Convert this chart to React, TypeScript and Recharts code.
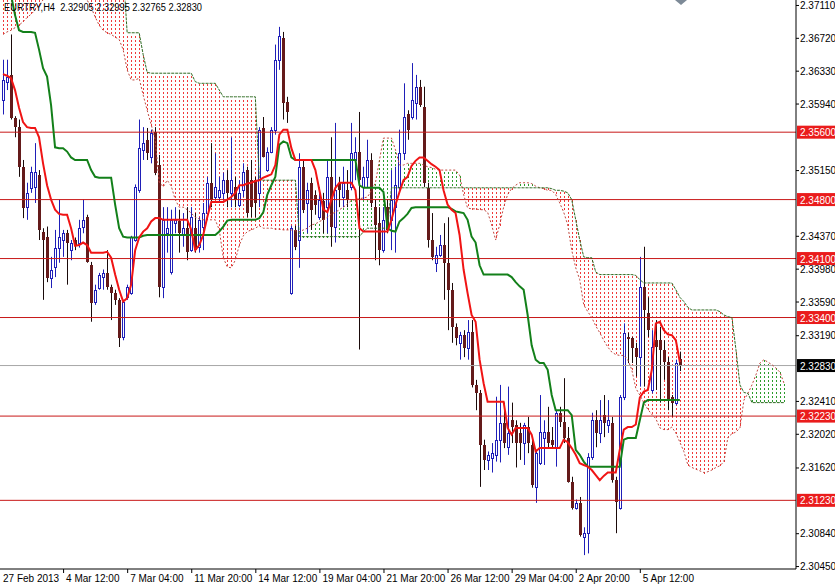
import React from "react";
import { ComposedChart, Line, Bar, XAxis, YAxis, ReferenceLine } from "recharts";

// EURTRY H4, bar by bar, oldest first
const opens = [
  2.3598, 2.3620, 2.3628, 2.3577, 2.3566, 2.3519, 2.3471, 2.3494, 2.3495, 2.3509,
  2.3442, 2.3436, 2.3387, 2.3400, 2.3423, 2.3432, 2.3440, 2.3420, 2.3432, 2.3429,
  2.3448, 2.3459, 2.3402, 2.3359, 2.3375, 2.3388, 2.3393, 2.3376, 2.3369, 2.3361,
  2.3317, 2.3364, 2.3369, 2.3432, 2.3491, 2.3539, 2.3551, 2.3531, 2.3560, 2.3521,
  2.3376, 2.3440, 2.3394, 2.3452, 2.3454, 2.3438, 2.3446, 2.3420, 2.3446, 2.3424,
  2.3448, 2.3464, 2.3500, 2.3483, 2.3483, 2.3488, 2.3503, 2.3488, 2.3495, 2.3474,
  2.3491, 2.3515, 2.3503, 2.3503, 2.3488, 2.3565, 2.3515, 2.3536, 2.3563, 2.3646,
  2.3672, 2.3596, 2.3369, 2.3444, 2.3432, 2.3519, 2.3476, 2.3500, 2.3486, 2.3459,
  2.3478, 2.3471, 2.3507, 2.3448, 2.3500, 2.3483, 2.3491, 2.3495, 2.3527, 2.3536,
  2.3495, 2.3507, 2.3527, 2.3471, 2.3452, 2.3420, 2.3471, 2.3456, 2.3471, 2.3495,
  2.3535, 2.3581, 2.3578, 2.3595, 2.3614, 2.3590, 2.3494, 2.3432, 2.3405, 2.3414,
  2.3426, 2.3405, 2.3373, 2.3329, 2.3310, 2.3319, 2.3304, 2.3323, 2.3260, 2.3250,
  2.3189, 2.3171, 2.3173, 2.3177, 2.3195, 2.3215, 2.3186, 2.3218, 2.3213, 2.3203,
  2.3191, 2.3210, 2.3189, 2.3139, 2.3167, 2.3197, 2.3204, 2.3195, 2.3186, 2.3227,
  2.3216, 2.3197, 2.3145, 2.3114, 2.3120, 2.3080, 2.3084, 2.3175, 2.3218, 2.3203,
  2.3224, 2.3213, 2.3215, 2.3147, 2.3114, 2.3246, 2.3317, 2.3316, 2.3304, 2.3293,
  2.3376, 2.3345, 2.3254, 2.3313, 2.3313, 2.3302, 2.3287, 2.3246, 2.3239, 2.32905,
];

const highs = [
  2.3646, 2.3646, 2.3676, 2.3579, 2.3575, 2.3527, 2.3500, 2.3519, 2.3547, 2.3515,
  2.3446, 2.3448, 2.3412, 2.3444, 2.3480, 2.3444, 2.3444, 2.3432, 2.3435, 2.3456,
  2.3480, 2.3462, 2.3406, 2.3379, 2.3393, 2.3397, 2.3420, 2.3379, 2.3373, 2.3363,
  2.3361, 2.3379, 2.3437, 2.3498, 2.3575, 2.3566, 2.3565, 2.3563, 2.3566, 2.3533,
  2.3471, 2.3471, 2.3468, 2.3471, 2.3468, 2.3464, 2.3471, 2.3471, 2.3464, 2.3459,
  2.3476, 2.3507, 2.3547, 2.3535, 2.3507, 2.3512, 2.3515, 2.3554, 2.3507, 2.3503,
  2.3523, 2.3519, 2.3527, 2.3507, 2.3566, 2.3578, 2.3542, 2.3566, 2.3664, 2.3685,
  2.3679, 2.3602, 2.3449, 2.3449, 2.3535, 2.3527, 2.3500, 2.3506, 2.3491, 2.3495,
  2.3488, 2.3527, 2.3554, 2.3571, 2.3507, 2.3519, 2.3515, 2.3571, 2.3554, 2.3584,
  2.3519, 2.3551, 2.3535, 2.3480, 2.3471, 2.3471, 2.3480, 2.3515, 2.3519, 2.3563,
  2.3618, 2.3586, 2.3642, 2.3628, 2.3622, 2.3614, 2.3500, 2.3464, 2.3424, 2.3438,
  2.3452, 2.3459, 2.3381, 2.3333, 2.3323, 2.3325, 2.3337, 2.3337, 2.3266, 2.3254,
  2.3195, 2.3181, 2.3191, 2.3246, 2.3260, 2.3239, 2.3258, 2.3239, 2.3218, 2.3215,
  2.3215, 2.3222, 2.3195, 2.3183, 2.3248, 2.3218, 2.3234, 2.3210, 2.3230, 2.3234,
  2.3268, 2.3210, 2.3151, 2.3124, 2.3127, 2.3091, 2.3179, 2.3227, 2.3230, 2.3242,
  2.3248, 2.3242, 2.3222, 2.3151, 2.3248, 2.3333, 2.3322, 2.3317, 2.3310, 2.3412,
  2.3424, 2.3364, 2.3325, 2.3337, 2.3329, 2.3313, 2.3293, 2.3248, 2.3290, 2.32995,
];

const lows = [
  2.3581, 2.3610, 2.3575, 2.3554, 2.3507, 2.3458, 2.3456, 2.3488, 2.3476, 2.3432,
  2.3361, 2.3382, 2.3375, 2.3388, 2.3405, 2.3412, 2.3379, 2.3408, 2.3420, 2.3423,
  2.3440, 2.3405, 2.3335, 2.3355, 2.3373, 2.3373, 2.3373, 2.3337, 2.3355, 2.3305,
  2.3313, 2.3361, 2.3367, 2.3430, 2.3488, 2.3527, 2.3527, 2.3523, 2.3509, 2.3364,
  2.3363, 2.3417, 2.3391, 2.3440, 2.3417, 2.3424, 2.3408, 2.3418, 2.3417, 2.3417,
  2.3420, 2.3456, 2.3471, 2.3480, 2.3476, 2.3480, 2.3471, 2.3471, 2.3471, 2.3471,
  2.3483, 2.3459, 2.3459, 2.3459, 2.3471, 2.3530, 2.3513, 2.3535, 2.3557, 2.3634,
  2.3575, 2.3571, 2.3367, 2.3420, 2.3399, 2.3464, 2.3440, 2.3444, 2.3462, 2.3456,
  2.3440, 2.3440, 2.3424, 2.3429, 2.3471, 2.3471, 2.3471, 2.3491, 2.3503, 2.3302,
  2.3480, 2.3495, 2.3471, 2.3408, 2.3402, 2.3417, 2.3440, 2.3420, 2.3417, 2.3491,
  2.3527, 2.3551, 2.3575, 2.3575, 2.3590, 2.3495, 2.3423, 2.3408, 2.3394, 2.3412,
  2.3361, 2.3325, 2.3310, 2.3307, 2.3290, 2.3293, 2.3290, 2.3257, 2.3230, 2.3139,
  2.3159, 2.3159, 2.3156, 2.3169, 2.3168, 2.3185, 2.3177, 2.3191, 2.3162, 2.3171,
  2.3165, 2.3179, 2.3138, 2.3120, 2.3165, 2.3165, 2.3186, 2.3185, 2.3163, 2.3210,
  2.3191, 2.3144, 2.3112, 2.3112, 2.3080, 2.3058, 2.3060, 2.3171, 2.3186, 2.3191,
  2.3198, 2.3203, 2.3144, 2.3084, 2.3112, 2.3242, 2.3286, 2.3286, 2.3270, 2.3258,
  2.3258, 2.3317, 2.3250, 2.3254, 2.3239, 2.3266, 2.3230, 2.3222, 2.3236, 2.32765,
];

const closes = [
  2.3622, 2.3626, 2.3577, 2.3566, 2.3519, 2.3470, 2.3488, 2.3513, 2.3513, 2.3444,
  2.3432, 2.3387, 2.3397, 2.3423, 2.3436, 2.3440, 2.3429, 2.3429, 2.3426, 2.3446,
  2.3456, 2.3406, 2.3357, 2.3373, 2.3391, 2.3393, 2.3376, 2.3369, 2.3361, 2.3316,
  2.3359, 2.3376, 2.3435, 2.3495, 2.3541, 2.3547, 2.3535, 2.3559, 2.3512, 2.3376,
  2.3456, 2.3446, 2.3456, 2.3456, 2.3440, 2.3446, 2.3418, 2.3459, 2.3420, 2.3456,
  2.3464, 2.3500, 2.3480, 2.3495, 2.3491, 2.3503, 2.3488, 2.3503, 2.3480, 2.3488,
  2.3513, 2.3464, 2.3471, 2.3476, 2.3563, 2.3531, 2.3536, 2.3563, 2.3646, 2.3674,
  2.3595, 2.3584, 2.3446, 2.3424, 2.3519, 2.3468, 2.3491, 2.3468, 2.3474, 2.3480,
  2.3456, 2.3507, 2.3448, 2.3491, 2.3491, 2.3500, 2.3480, 2.3535, 2.3536, 2.3503,
  2.3507, 2.3527, 2.3476, 2.3450, 2.3420, 2.3456, 2.3444, 2.3480, 2.3497, 2.3535,
  2.3578, 2.3563, 2.3598, 2.3614, 2.3592, 2.3500, 2.3432, 2.3412, 2.3414, 2.3426,
  2.3405, 2.3373, 2.3329, 2.3316, 2.3319, 2.3304, 2.3323, 2.3260, 2.3250, 2.3189,
  2.3171, 2.3177, 2.3179, 2.3195, 2.3215, 2.3191, 2.3203, 2.3210, 2.3191, 2.3191,
  2.3213, 2.3191, 2.3141, 2.3179, 2.3204, 2.3204, 2.3191, 2.3189, 2.3227, 2.3216,
  2.3197, 2.3145, 2.3114, 2.3120, 2.3082, 2.3084, 2.3175, 2.3218, 2.3203, 2.3218,
  2.3215, 2.3218, 2.3147, 2.3121, 2.3246, 2.3322, 2.3315, 2.3304, 2.3293, 2.3376,
  2.3349, 2.3325, 2.3305, 2.3305, 2.3302, 2.3287, 2.3242, 2.3239, 2.3286, 2.32830,
];

// Ichimoku: tenkan-sen (red), kijun-sen (green)
const tenkan = [
  2.3629, 2.3627, 2.3624, 2.3610, 2.3589, 2.3572, 2.3566, 2.3565, 2.3565, 2.3554,
  2.3523, 2.3497, 2.3480, 2.3468, 2.3463, 2.3462, 2.3462, 2.3446, 2.3425, 2.3426,
  2.3429, 2.3426, 2.3417, 2.3417, 2.3417, 2.3417, 2.3418, 2.3411, 2.3391, 2.3373,
  2.3359, 2.3363, 2.3379, 2.3420, 2.3435, 2.3442, 2.3446, 2.3454, 2.3458, 2.3458,
  2.3456, 2.3456, 2.3456, 2.3456, 2.3456, 2.3456, 2.3456, 2.3444, 2.3420, 2.3426,
  2.3438, 2.3459, 2.3477, 2.3477, 2.3477, 2.3477, 2.3480, 2.3483, 2.3488, 2.3497,
  2.3497, 2.3499, 2.3500, 2.3502, 2.3503, 2.3506, 2.3508, 2.3510, 2.3521, 2.3557,
  2.3563, 2.3563, 2.3541, 2.3527, 2.3527, 2.3527, 2.3527, 2.3527, 2.3515, 2.3491,
  2.3468, 2.3465, 2.3480, 2.3494, 2.3500, 2.3500, 2.3500, 2.3500, 2.3491, 2.3446,
  2.3442, 2.3442, 2.3442, 2.3442, 2.3442, 2.3442, 2.3442, 2.3456, 2.3474, 2.3489,
  2.3503, 2.3507, 2.3520, 2.3526, 2.3530, 2.3530, 2.3526, 2.3522, 2.3519, 2.3515,
  2.3491, 2.3474, 2.3468, 2.3464, 2.3438, 2.3397, 2.3369, 2.3343, 2.3335, 2.3290,
  2.3262, 2.3240, 2.3240, 2.3240, 2.3240, 2.3240, 2.3209, 2.3201, 2.3209, 2.3209,
  2.3209, 2.3209, 2.3201, 2.3181, 2.3185, 2.3185, 2.3185, 2.3185, 2.3185, 2.3185,
  2.3195, 2.3192, 2.3185, 2.3177, 2.3167, 2.3165, 2.3163, 2.3159, 2.3153, 2.3147,
  2.3152, 2.3156, 2.3156, 2.3156, 2.3183, 2.3207, 2.3210, 2.3210, 2.3213, 2.3245,
  2.3252, 2.3254, 2.3278, 2.3333, 2.3335, 2.3325, 2.3320, 2.3319, 2.3313, 2.3287,
];

const kijun = [
  2.3765, 2.3747, 2.3723, 2.3699, 2.3681, 2.3679, 2.3679, 2.3679, 2.3678, 2.3658,
  2.3636, 2.3626, 2.3592, 2.3542, 2.3541, 2.3541, 2.3537, 2.3530, 2.3527, 2.3527,
  2.3527, 2.3527, 2.3515, 2.3507, 2.3506, 2.3506, 2.3506, 2.3506, 2.3474, 2.3446,
  2.3436, 2.3435, 2.3435, 2.3435, 2.3435, 2.3437, 2.3438, 2.3438, 2.3438, 2.3438,
  2.3438, 2.3438, 2.3438, 2.3438, 2.3438, 2.3438, 2.3438, 2.3438, 2.3438, 2.3438,
  2.3438, 2.3438, 2.3438, 2.3438, 2.3442, 2.3448, 2.3455, 2.3456, 2.3456, 2.3456,
  2.3456, 2.3456, 2.3456, 2.3456, 2.3458, 2.3465, 2.3486, 2.3497, 2.3507, 2.3545,
  2.3549, 2.3547, 2.3530, 2.3527, 2.3527, 2.3527, 2.3527, 2.3527, 2.3527, 2.3527,
  2.3527, 2.3527, 2.3527, 2.3527, 2.3527, 2.3527, 2.3527, 2.3527, 2.3527, 2.3497,
  2.3494, 2.3494, 2.3494, 2.3494, 2.3494, 2.3489, 2.3446, 2.3443, 2.3442, 2.3454,
  2.3458, 2.3463, 2.3470, 2.3471, 2.3471, 2.3471, 2.3471, 2.3471, 2.3471, 2.3471,
  2.3471, 2.3471, 2.3469, 2.3466, 2.3465, 2.3464, 2.3456, 2.3436, 2.3429, 2.3402,
  2.3391, 2.3391, 2.3391, 2.3391, 2.3391, 2.3391, 2.3391, 2.3388, 2.3382, 2.3377,
  2.3373, 2.3343, 2.3307, 2.3290, 2.3286, 2.3286, 2.3278, 2.3248, 2.3230, 2.3230,
  2.3230, 2.3230, 2.3224, 2.3183, 2.3177, 2.3169, 2.3163, 2.3163, 2.3163, 2.3163,
  2.3163, 2.3163, 2.3163, 2.3163, 2.3163, 2.3195, 2.3197, 2.3197, 2.3197, 2.3218,
  2.3239, 2.3242, 2.3242, 2.3242, 2.3242, 2.3242, 2.3242, 2.3242, 2.3242, 2.3242,
];

// senkou spans, already shifted 26 bars forward (196 slots)
const spanA = [
  2.3676, 2.3679, 2.3681, 2.3684, 2.3687, 2.3691, 2.3696, 2.3700, 2.3705, 2.3711,
  2.3717, 2.3729, 2.3729, 2.3729, 2.3729, 2.3729, 2.3729, 2.3729, 2.3729, 2.3729,
  2.3729, 2.3717, 2.3708, 2.3697, 2.3687, 2.3681, 2.3678, 2.3676, 2.3673, 2.3670,
  2.3658, 2.3634, 2.3622, 2.3622, 2.3624, 2.3604, 2.3586, 2.3569, 2.3551, 2.3501,
  2.3495, 2.3503, 2.3496, 2.3480, 2.3471, 2.3471, 2.3468, 2.3464, 2.3459, 2.3457,
  2.3456, 2.3456, 2.3456, 2.3456, 2.3444, 2.3411, 2.3400, 2.3399, 2.3408, 2.3426,
  2.3437, 2.3442, 2.3444, 2.3446, 2.3449, 2.3446, 2.3446, 2.3446, 2.3445, 2.3445,
  2.3444, 2.3444, 2.3444, 2.3443, 2.3442, 2.3444, 2.3446, 2.3450, 2.3451, 2.3454,
  2.3456, 2.3459, 2.3463, 2.3465, 2.3468, 2.3471, 2.3475, 2.3479, 2.3480, 2.3481,
  2.3482, 2.3483, 2.3491, 2.3500, 2.3527, 2.3553, 2.3553, 2.3553, 2.3539, 2.3521,
  2.3521, 2.3523, 2.3523, 2.3523, 2.3523, 2.3521, 2.3519, 2.3518, 2.3516, 2.3515,
  2.3515, 2.3515, 2.3515, 2.3515, 2.3509, 2.3486, 2.3470, 2.3469, 2.3469, 2.3468,
  2.3468, 2.3465, 2.3450, 2.3432, 2.3450, 2.3471, 2.3486, 2.3493, 2.3497, 2.3500,
  2.3500, 2.3500, 2.3499, 2.3496, 2.3494, 2.3493, 2.3491, 2.3491, 2.3486, 2.3476,
  2.3465, 2.3450, 2.3420, 2.3399, 2.3385, 2.3355, 2.3347, 2.3340, 2.3330, 2.3322,
  2.3313, 2.3305, 2.3299, 2.3296, 2.3295, 2.3295, 2.3290, 2.3278, 2.3256, 2.3248,
  2.3239, 2.3231, 2.3225, 2.3220, 2.3209, 2.3207, 2.3207, 2.3210, 2.3203, 2.3192,
  2.3181, 2.3165, 2.3162, 2.3160, 2.3158, 2.3156, 2.3157, 2.3159, 2.3162, 2.3164,
  2.3169, 2.3198, 2.3202, 2.3204, 2.3209, 2.3242, 2.3250, 2.3260, 2.3272, 2.3286,
  2.3290, 2.3287, 2.3284, 2.3280, 2.3275, 2.3262,
];

const spanB = [
  2.3753, 2.3753, 2.3753, 2.3753, 2.3753, 2.3753, 2.3753, 2.3753, 2.3753, 2.3753,
  2.3753, 2.3753, 2.3753, 2.3753, 2.3753, 2.3753, 2.3753, 2.3753, 2.3753, 2.3753,
  2.3753, 2.3753, 2.3753, 2.3753, 2.3753, 2.3753, 2.3753, 2.3753, 2.3753, 2.3753,
  2.3753, 2.3678, 2.3678, 2.3678, 2.3678, 2.3652, 2.3631, 2.3630, 2.3630, 2.3630,
  2.3630, 2.3630, 2.3630, 2.3630, 2.3630, 2.3630, 2.3630, 2.3630, 2.3620, 2.3618,
  2.3618, 2.3618, 2.3618, 2.3618, 2.3610, 2.3602, 2.3602, 2.3602, 2.3602, 2.3602,
  2.3602, 2.3602, 2.3602, 2.3602, 2.3503, 2.3503, 2.3503, 2.3503, 2.3503, 2.3503,
  2.3503, 2.3503, 2.3503, 2.3503, 2.3436, 2.3436, 2.3436, 2.3436, 2.3436, 2.3436,
  2.3436, 2.3436, 2.3436, 2.3436, 2.3436, 2.3436, 2.3436, 2.3436, 2.3436, 2.3436,
  2.3442, 2.3446, 2.3446, 2.3446, 2.3446, 2.3446, 2.3446, 2.3494, 2.3494, 2.3494,
  2.3494, 2.3494, 2.3494, 2.3494, 2.3494, 2.3494, 2.3494, 2.3494, 2.3494, 2.3494,
  2.3494, 2.3494, 2.3494, 2.3494, 2.3494, 2.3494, 2.3494, 2.3494, 2.3494, 2.3494,
  2.3494, 2.3494, 2.3494, 2.3494, 2.3494, 2.3494, 2.3494, 2.3494, 2.3494, 2.3494,
  2.3494, 2.3494, 2.3494, 2.3494, 2.3494, 2.3494, 2.3494, 2.3493, 2.3491, 2.3491,
  2.3490, 2.3488, 2.3480, 2.3456, 2.3432, 2.3412, 2.3411, 2.3411, 2.3394, 2.3391,
  2.3391, 2.3391, 2.3391, 2.3391, 2.3391, 2.3391, 2.3391, 2.3391, 2.3390, 2.3385,
  2.3381, 2.3381, 2.3381, 2.3381, 2.3381, 2.3381, 2.3381, 2.3381, 2.3373, 2.3364,
  2.3359, 2.3352, 2.3349, 2.3349, 2.3349, 2.3349, 2.3349, 2.3349, 2.3349, 2.3347,
  2.3343, 2.3341, 2.3340, 2.3302, 2.3260, 2.3251, 2.3250, 2.3239, 2.3239, 2.3239,
  2.3239, 2.3239, 2.3239, 2.3239, 2.3239, 2.3239,
];

const levels = [2.356, 2.348, 2.341, 2.334, 2.3223, 2.3123];
const lastClose = 2.3283;
const priceTicks = [
  2.3711, 2.3672, 2.3633, 2.3594, 2.3515, 2.3437, 2.3398, 2.3359, 2.3319,
  2.3241, 2.3202, 2.3162, 2.3084, 2.3045,
];
const dateTickBars = [-0.75, 15, 31, 47, 63, 79, 95, 111, 127, 143, 159];
const dateTickLabels = [
  "27 Feb 2013", "4 Mar 12:00", "7 Mar 04:00", "11 Mar 20:00", "14 Mar 12:00",
  "19 Mar 04:00", "21 Mar 20:00", "26 Mar 12:00", "29 Mar 04:00", "2 Apr 20:00", "5 Apr 12:00",
];

const rows = spanA.map((a, i) => {
  const b = spanB[i];
  const has = i < opens.length;
  return {
    i,
    a,
    b,
    cloud: [Math.min(a, b), Math.max(a, b)],
    range: has ? [lows[i], highs[i]] : null,
    o: has ? opens[i] : null,
    h: has ? highs[i] : null,
    l: has ? lows[i] : null,
    c: has ? closes[i] : null,
    tenkan: has ? tenkan[i] : null,
    kijun: has ? kijun[i] : null,
  };
});

const FONT = '"Liberation Sans", Arial, sans-serif';

// one dotted histogram column per bar, the way MT4 hatches the kumo
function CloudColumn(props: any) {
  const { x, y, width, height, payload } = props;
  if (payload == null || !height) return null;
  const top = Math.round(Math.min(y, y + height));
  const bot = Math.round(Math.max(y, y + height));
  if (bot - top < 1) return null;
  const cx = Math.floor(x + width / 2);
  const color = payload.a > payload.b ? "#2c9c2c" : "#f03a3a";
  const dots = [];
  for (let yy = Math.max(0, Math.ceil(top / 4) * 4); yy < bot; yy += 4) {
    dots.push(<rect key={yy} x={cx} y={yy} width={1} height={2} fill={color} />);
  }
  return <g shapeRendering="crispEdges">{dots}</g>;
}

function Candle(props: any) {
  const { x, y, width, height, payload } = props;
  if (payload == null || payload.o == null || !height) return null;
  const { o, h, l, c } = payload;
  const top = Math.min(y, y + height);
  const hgt = Math.abs(height);
  const k = hgt / (h - l);
  const cx = Math.floor(x + width / 2);
  const bTop = Math.round(top + (h - Math.max(o, c)) * k);
  const bBot = Math.round(top + (h - Math.min(o, c)) * k);
  const up = c >= o;
  const wick = up ? "#1f1fb8" : "#1a0a0a";
  return (
    <g>
      <line x1={cx + 0.5} x2={cx + 0.5} y1={top} y2={top + hgt} stroke={wick} strokeWidth={1} />
      {up ? (
        <rect x={cx - 0.5} y={bTop + 0.5} width={2} height={Math.max(1, bBot - bTop)} fill="#fff" stroke="#1f1fb8" strokeWidth={1} />
      ) : (
        <rect x={cx - 1} y={bTop} width={3} height={Math.max(1, bBot - bTop)} fill="#641a1a" />
      )}
    </g>
  );
}

function PriceTick(props: any) {
  const { x, y, payload } = props;
  const v = payload.value;
  const label = v.toFixed(5);
  const isLast = v === lastClose;
  if (isLast || levels.includes(v)) {
    return (
      <g>
        <rect x={x - 3} y={y - 6.5} width={39} height={13} fill={isLast ? "#000" : "#ea1c1c"} />
        <text x={x} y={y + 4} fill="#fff" fontSize={10} fontFamily={FONT}>{label}</text>
      </g>
    );
  }
  return (
    <g>
      <line x1={x - 4} x2={x - 1} y1={y + 0.5} y2={y + 0.5} stroke="#000" />
      <text x={x} y={y + 4} fill="#000" fontSize={10} fontFamily={FONT}>{label}</text>
    </g>
  );
}

function DateTick(props: any) {
  const { x, y, payload } = props;
  const idx = dateTickBars.indexOf(payload.value);
  return (
    <g>
      {idx > 0 && <line x1={x + 0.5} x2={x + 0.5} y1={y - 4} y2={y} stroke="#000" />}
      <text x={x + 3} y={y + 9} fill="#000" fontSize={10} fontFamily={FONT}>{dateTickLabels[idx]}</text>
    </g>
  );
}

export default function App() {
  return (
    <div style={{ position: "absolute", left: 0, top: 0, width: 835, height: 585, background: "#fff", overflow: "hidden" }}>
      <ComposedChart width={835} height={585} data={rows} margin={{ top: 0, right: 0, bottom: 0, left: 0 }}>
        <XAxis
          dataKey="i"
          type="number"
          domain={[-0.75, 198]}
          ticks={dateTickBars}
          interval={0}
          allowDataOverflow
          height={16}
          tickSize={4}
          tickMargin={0}
          tickLine={false}
          axisLine={{ stroke: "#000" }}
          tick={<DateTick />}
        />
        <XAxis xAxisId="kumo" dataKey="i" type="number" domain={[-0.75, 198]} allowDataOverflow hide />
        <YAxis
          orientation="right"
          type="number"
          domain={[2.30415, 2.37169]}
          allowDataOverflow
          ticks={[...priceTicks, ...levels, lastClose]}
          interval={0}
          width={39}
          tickSize={4}
          tickMargin={0}
          tickLine={false}
          axisLine={{ stroke: "#000" }}
          tick={<PriceTick />}
        />
        <Bar xAxisId="kumo" dataKey="cloud" barSize={1} shape={<CloudColumn />} activeBar={false} isAnimationActive={false} />
        {levels.map((lv) => (
          <ReferenceLine key={lv} y={lv} stroke="#c81818" strokeWidth={1} />
        ))}
        <ReferenceLine y={lastClose} stroke="#a8a8a8" strokeWidth={1} />
        <Line dataKey="a" type="linear" stroke="#c0453c" strokeWidth={1} strokeDasharray="2 2" dot={false} activeDot={false} isAnimationActive={false} />
        <Line dataKey="b" type="linear" stroke="#2e6b22" strokeWidth={1} strokeDasharray="3 1" dot={false} activeDot={false} isAnimationActive={false} />
        <Bar dataKey="range" barSize={3} shape={<Candle />} activeBar={false} isAnimationActive={false} />
        <Line dataKey="kijun" type="linear" stroke="#13801a" strokeWidth={2} dot={false} activeDot={false} isAnimationActive={false} />
        <Line dataKey="tenkan" type="linear" stroke="#f01414" strokeWidth={2} dot={false} activeDot={false} isAnimationActive={false} />
      </ComposedChart>
      <svg style={{ position: "absolute", left: 0, top: 0, pointerEvents: "none" }} width={835} height={14}>
        <text x={4} y={11} fontSize={10} fontFamily={FONT} fill="#000" textLength={198} lengthAdjust="spacingAndGlyphs" xmlSpace="preserve">
          {"EURTRY,H4  2.32905 2.32995 2.32765 2.32830"}
        </text>
        <polygon points="675,0 687,0 681,5" fill="#7d8a97" />
      </svg>
    </div>
  );
}
